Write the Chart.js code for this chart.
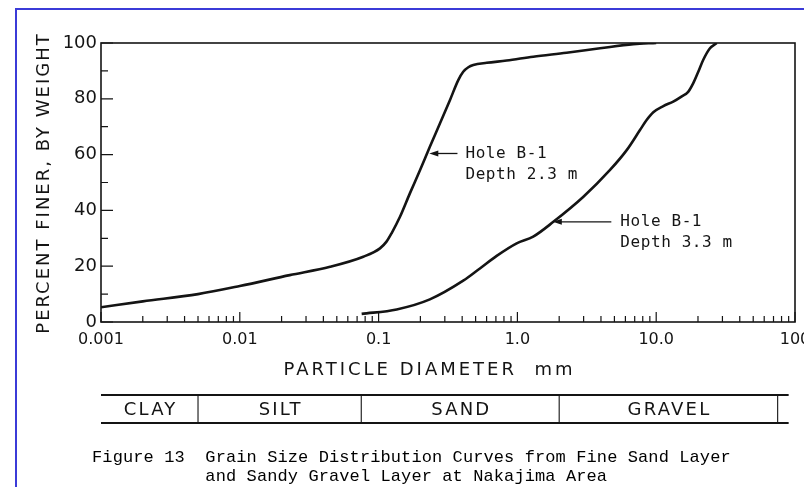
<!DOCTYPE html>
<html>
<head>
<meta charset="utf-8">
<title>Grain Size Distribution Curves</title>
<script src="https://cdn.jsdelivr.net/npm/chart.js@4.4.1/dist/chart.umd.min.js"></script>
<style>
  html, body { margin: 0; padding: 0; background: #fff; }
</style>
</head>
<body>
<canvas id="gsdChart" width="804" height="487"></canvas>
<script>
// Hole B-1, depth 2.3 m (fine sand layer): particle diameter in mm / percent finer
const depth23Dia = [0.001, 0.002, 0.005, 0.01, 0.0229, 0.0447, 0.0776, 0.1023, 0.114, 0.124, 0.1426, 0.168, 0.199, 0.234, 0.277, 0.327, 0.375, 0.407, 0.443, 0.481, 0.601, 0.837, 1.3, 2.26, 3.94, 6.84, 10.0];
const depth23Pct = [5.3, 7.4, 10.0, 12.9, 16.8, 19.8, 23.4, 26.4, 28.8, 31.8, 37.7, 46.1, 54.5, 62.8, 71.2, 79.6, 86.7, 89.7, 91.3, 92.1, 92.9, 93.7, 95.1, 96.5, 98.1, 99.6, 100];

// Hole B-1, depth 3.3 m (sandy gravel layer)
const depth33Dia = [0.0755, 0.135, 0.234, 0.407, 0.537, 0.709, 0.988, 1.3, 1.815, 2.99, 4.65, 6.13, 7.64, 8.53, 9.53, 11.25, 13.27, 15.2, 17.0, 18.5, 20.1, 21.8, 24.4, 27.3];
const depth33Pct = [2.9, 4.5, 8.1, 14.8, 19.2, 23.7, 28.2, 30.6, 35.9, 44.9, 54.5, 61.6, 68.8, 72.4, 75.2, 77.4, 79.0, 80.8, 82.5, 85.6, 89.7, 93.9, 98.1, 100];

// x tick labels (decades only)
const xLabelValues = [0.001, 0.01, 0.1, 1, 10, 100];
const xLabelText = ['0.001', '0.01', '0.1', '1.0', '10.0', '100'];

// soil classes along the bottom strip (mm)
const soilClasses = ['CLAY', 'SILT', 'SAND', 'GRAVEL'];
const soilBounds = [0.001, 0.005, 0.075, 2, 75];
const stripEnd = 90;

// curve callouts: arrow head on the curve, tail, text anchor (mm, %)
const calloutText = [['Hole B-1', 'Depth 2.3 m'], ['Hole B-1', 'Depth 3.3 m']];
const calloutHead = [[0.232, 60.4], [1.8, 35.9]];
const calloutTail = [[0.37, 60.4], [4.75, 35.9]];
const calloutAt = [[0.42, 60.4], [5.48, 35.9]];

const captionLines = [
  'Figure 13  Grain Size Distribution Curves from Fine Sand Layer',
  '           and Sandy Gravel Layer at Nakajima Area'
];

// log ticks 1..9 per decade
const xTickValues = [];
for (let k = -3; k <= 1; k++) {
  for (let m = 1; m <= 9; m++) xTickValues.push(Number((m * Math.pow(10, k)).toPrecision(6)));
}
xTickValues.push(100);

const ink = '#141414';

function xLabelFor(v) {
  const i = xLabelValues.findIndex(l => Math.abs(Math.log10(l) - Math.log10(v)) < 1e-6);
  return i >= 0 ? xLabelText[i] : '';
}

function spacedText(ctx, text, x, y, spacing) {
  ctx.letterSpacing = spacing + 'px';
  ctx.fillText(text, x + spacing / 2, y);
  ctx.letterSpacing = '0px';
}

const figurePlugin = {
  id: 'figureDecor',
  beforeDraw(chart) {
    const ctx = chart.ctx;
    ctx.save();
    ctx.fillStyle = '#fff';
    ctx.fillRect(0, 0, chart.width, chart.height);
    ctx.restore();
  },
  afterDraw(chart) {
    const { ctx, chartArea: a, scales: { x, y } } = chart;
    ctx.save();
    ctx.strokeStyle = ink;
    ctx.fillStyle = ink;

    // plot box
    ctx.lineWidth = 1.6;
    ctx.strokeRect(a.left, a.top, a.right - a.left, a.bottom - a.top);

    // inward tick marks
    ctx.lineWidth = 1.2;
    ctx.beginPath();
    x.ticks.forEach(t => {
      const px = x.getPixelForValue(t.value);
      const major = Math.abs(Math.log10(t.value) - Math.round(Math.log10(t.value))) < 1e-6;
      ctx.moveTo(px, a.bottom);
      ctx.lineTo(px, a.bottom - (major ? 10 : 6));
    });
    y.ticks.forEach(t => {
      const py = y.getPixelForValue(t.value);
      ctx.moveTo(a.left, py);
      ctx.lineTo(a.left + (t.value % 20 === 0 ? 12 : 7), py);
    });
    ctx.stroke();

    // axis titles
    ctx.font = '18px "DejaVu Sans"';
    ctx.textBaseline = 'middle';
    ctx.textAlign = 'center';
    spacedText(ctx, 'PARTICLE DIAMETER  mm', 428, 370, 3);
    ctx.save();
    ctx.translate(44, 184);
    ctx.rotate(-Math.PI / 2);
    spacedText(ctx, 'PERCENT FINER, BY WEIGHT', 0, 0, 2);
    ctx.restore();

    // callouts with arrows
    ctx.font = '16px "DejaVu Sans Mono"';
    ctx.textAlign = 'left';
    calloutText.forEach((lines, i) => {
      const hx = x.getPixelForValue(calloutHead[i][0]);
      const hy = y.getPixelForValue(calloutHead[i][1]);
      const tx = x.getPixelForValue(calloutTail[i][0]);
      ctx.lineWidth = 1.3;
      ctx.beginPath();
      ctx.moveTo(hx + 6, hy);
      ctx.lineTo(tx, hy);
      ctx.stroke();
      ctx.beginPath();
      ctx.moveTo(hx, hy);
      ctx.lineTo(hx + 9, hy - 3);
      ctx.lineTo(hx + 9, hy + 3);
      ctx.closePath();
      ctx.fill();
      const lx = x.getPixelForValue(calloutAt[i][0]);
      const ly = y.getPixelForValue(calloutAt[i][1]);
      lines.forEach((s, j) => spacedText(ctx, s, lx, ly + j * 21, 0.6));
    });

    // soil class strip
    const sTop = 395, sBot = 423;
    const sLeft = x.getPixelForValue(soilBounds[0]);
    const sRight = x.getPixelForValue(stripEnd);
    ctx.lineWidth = 2;
    ctx.beginPath();
    ctx.moveTo(sLeft, sTop); ctx.lineTo(sRight, sTop);
    ctx.moveTo(sLeft, sBot); ctx.lineTo(sRight, sBot);
    ctx.stroke();
    ctx.lineWidth = 1.1;
    ctx.beginPath();
    soilBounds.slice(1).forEach(b => {
      const px = x.getPixelForValue(b);
      ctx.moveTo(px, sTop); ctx.lineTo(px, sBot);
    });
    ctx.stroke();
    ctx.font = '18px "DejaVu Sans"';
    ctx.textAlign = 'center';
    soilClasses.forEach((c, i) => {
      const mid = Math.sqrt(soilBounds[i] * soilBounds[i + 1]);
      spacedText(ctx, c, x.getPixelForValue(mid), 410, 2.2);
    });

    // caption
    ctx.font = '17px "Liberation Mono", "Courier New", monospace';
    ctx.textAlign = 'left';
    ctx.fillStyle = '#000';
    captionLines.forEach((s, i) => spacedText(ctx, s, 92, 457 + i * 19, 0.1));

    // blue page frame
    ctx.strokeStyle = '#3b3bd8';
    ctx.lineWidth = 2;
    ctx.beginPath();
    ctx.moveTo(16, chart.height);
    ctx.lineTo(16, 9);
    ctx.lineTo(chart.width, 9);
    ctx.stroke();
    ctx.restore();
  }
};

new Chart(document.getElementById('gsdChart'), {
  type: 'line',
  data: {
    datasets: [
      {
        label: 'Hole B-1 Depth 2.3 m',
        data: depth23Dia.map((d, i) => ({ x: d, y: depth23Pct[i] })),
        borderColor: ink,
        borderWidth: 2.6,
        pointRadius: 0,
        cubicInterpolationMode: 'monotone',
        fill: false
      },
      {
        label: 'Hole B-1 Depth 3.3 m',
        data: depth33Dia.map((d, i) => ({ x: d, y: depth33Pct[i] })),
        borderColor: ink,
        borderWidth: 2.6,
        pointRadius: 0,
        cubicInterpolationMode: 'monotone',
        fill: false
      }
    ]
  },
  options: {
    responsive: false,
    animation: false,
    layout: { padding: { top: 43, right: 9, left: 0, bottom: 0 } },
    plugins: { legend: { display: false }, tooltip: { enabled: false } },
    scales: {
      x: {
        type: 'logarithmic',
        min: 0.001,
        max: 100,
        grid: { display: false, drawTicks: false },
        border: { display: false },
        afterBuildTicks: s => { s.ticks = xTickValues.map(v => ({ value: v })); },
        ticks: {
          autoSkip: false,
          maxRotation: 0,
          padding: 8,
          color: ink,
          font: { family: 'DejaVu Sans', size: 16 },
          callback: v => xLabelFor(v)
        },
        afterFit: s => { s.height = 165; s.paddingLeft = 0; s.paddingRight = 0; }
      },
      y: {
        min: 0,
        max: 100,
        grid: { display: false, drawTicks: false },
        border: { display: false },
        ticks: {
          stepSize: 10,
          padding: 4,
          color: ink,
          font: { family: 'DejaVu Sans', size: 18 },
          callback: v => (v % 20 === 0 ? v : '')
        },
        afterFit: s => { s.width = 101; s.paddingTop = 0; s.paddingBottom = 0; }
      }
    }
  },
  plugins: [figurePlugin]
});
</script>
</body>
</html>
